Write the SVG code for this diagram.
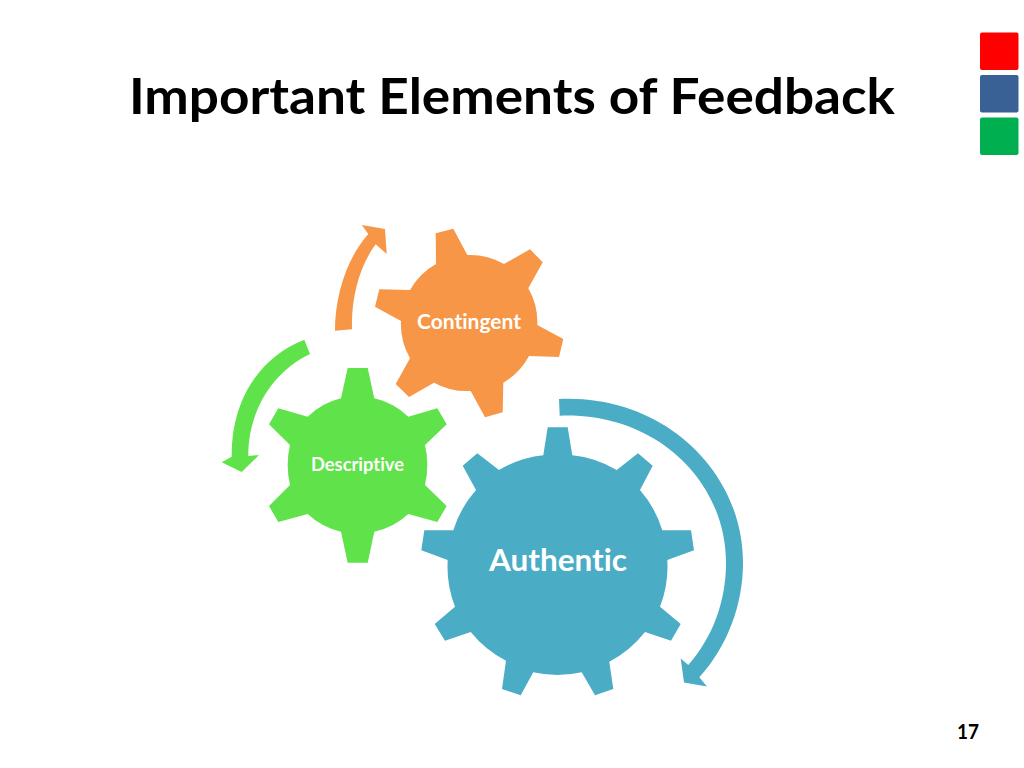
<svg xmlns="http://www.w3.org/2000/svg" width="1024" height="768" viewBox="0 0 1024 768">
<style>
.t{font-family:"Lato","Open Sans","Liberation Sans",sans-serif;font-weight:700;font-variant-ligatures:none}
.l{fill:#fff;text-anchor:middle}
.o{fill:#F79646}.b{fill:#4BACC6}.g{fill:#5FE24A}
</style>
<rect width="1024" height="768" fill="#fff"/>
<g id="title"><text class="t" x="129" y="114" font-size="50" fill="#000" textLength="766" lengthAdjust="spacingAndGlyphs">Important Elements of Feedback</text></g>
<g id="legend">
<rect x="980" y="32.5" width="38.5" height="37.5" rx="2" fill="#FF0000"/>
<rect x="980" y="75" width="38.5" height="37.5" rx="2" fill="#3A6195"/>
<rect x="980" y="117.5" width="38.5" height="37.5" rx="2" fill="#00B050"/>
</g>
<g id="connectors">
<path class="b" d="M559 399C662 394 743 470 743 563C743 605 727 647 699.3 677.3L707 686.5L684 682.5L680.7 658.5L688.3 665C713 637 726 601 726 563C726 480 655 412 559.7 415.7Z"/>
<path class="o" d="M335 330.7C335 295 347 258 368.3 234L361.7 225L385 229L386.7 254L375.7 244.3C360 265 351 297 352 329.3Z"/>
<path class="g" d="M304.3 339.7C260 357 231 400 231.7 456.7L221.7 462.3L241.7 472L259 455L248.3 456C248 412 272 372 310 354Z"/>
</g>
<g id="contingent">
<path class="o" d="M435.7 233.3L453.3 228.7L467.3 255A68 68 0 0 1 504 264L530 249.3L542.7 262.3L528.3 288.3A68 68 0 0 1 537.3 325L563.3 339L559 357L529 356A68 68 0 0 1 503.3 382.7L502.7 412.3L485 417.3L470.7 391A68 68 0 0 1 434 382.7L409 397L395.7 384L410 358.3A68 68 0 0 1 401 321L375 306.7L379.3 289.3L410 290A68 68 0 0 1 436 264Z"/>
<text class="t l" x="469" y="329" font-size="20" textLength="104" lengthAdjust="spacingAndGlyphs">Contingent</text>
</g>
<g id="descriptive">
<path class="g" d="M347.7 368L367.7 368L374.3 398.3A72 72 0 0 1 408.3 416.7L437.3 408.3L446.7 424.3L425 445A88 88 0 0 1 425 485L446.7 506L437.3 522L408.3 514A72 72 0 0 1 374.3 531.7L367.7 562.7L347.7 562.7L341 531.7A72 72 0 0 1 307.7 514L278.3 522L269 506L290 485A88 88 0 0 1 290 445L269 424.3L278.3 408.3L307.7 416.7A72 72 0 0 1 341 398.3Z"/>
<text class="t l" x="357.5" y="471" font-size="18" textLength="93" lengthAdjust="spacingAndGlyphs">Descriptive</text>
</g>
<g id="authentic">
<path class="b" d="M547.7 427.3L567.7 427.3L572.3 455.3A110 110 0 0 1 616.7 470L638 453.3L652.7 465.7L640 490A110 110 0 0 1 662.3 530.3L691 530.3L694 550.3L667.3 560A110 110 0 0 1 660 606.7L680.7 624L671 640.7L645 632A110 110 0 0 1 609.3 661.7L613.3 689L595 695.3L581.7 672.3A110 110 0 0 1 533.3 672.3L520.7 695.3L502 689L506 660.7A110 110 0 0 1 470.7 632L445 640.7L434.7 624L455 606.7A110 110 0 0 1 447.7 560L421.3 550.3L424.3 530.3L453.3 530.3A110 110 0 0 1 476 490L462.7 465.7L477.3 453.3L499 470A110 110 0 0 1 543.3 455.3Z"/>
<text class="t l" x="558" y="571" font-size="30" textLength="138" lengthAdjust="spacingAndGlyphs">Authentic</text>
</g>
<g id="page"><text class="t" x="957" y="739" font-size="20" fill="#000" textLength="22" lengthAdjust="spacingAndGlyphs">17</text></g>
</svg>
